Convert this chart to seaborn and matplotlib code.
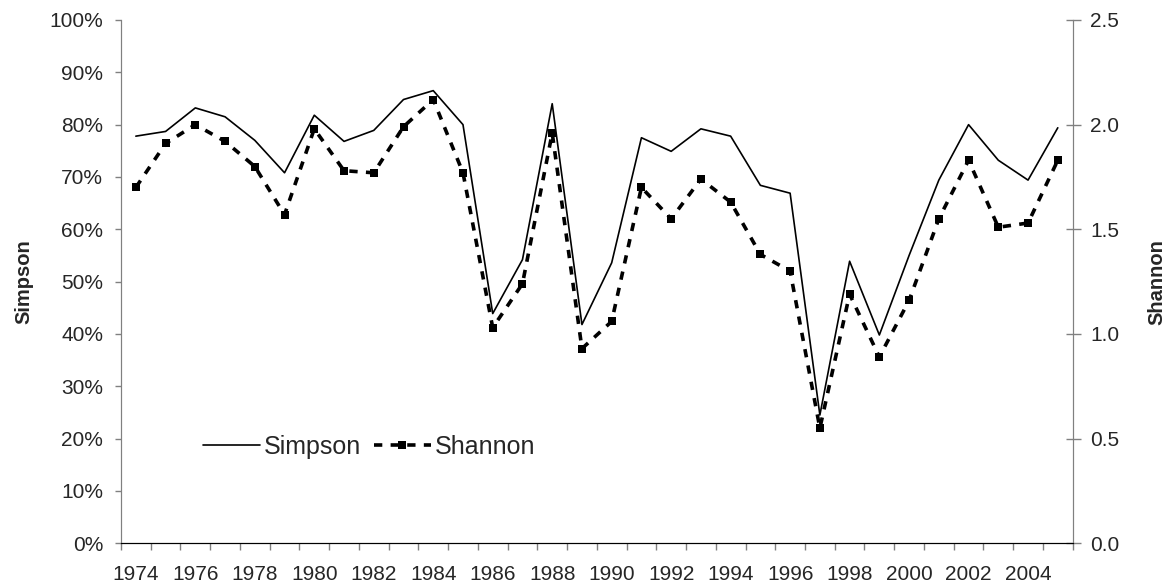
import numpy as np
import pandas as pd
import matplotlib
matplotlib.use("Agg")
import matplotlib.pyplot as plt
import seaborn as sns
from matplotlib.ticker import FuncFormatter, FixedLocator

sns.set_style("white")
plt.rcParams["font.family"] = ["Liberation Sans", "DejaVu Sans"]

years = list(range(1974, 2006))
simpson = [77.8, 78.7, 83.2, 81.5, 77.0, 70.8, 81.8, 76.8, 78.9, 84.8, 86.5, 80.0,
           43.9, 54.2, 84.0, 41.8, 53.6, 77.5, 74.9, 79.2, 77.8, 68.4, 66.9, 24.5, 53.9,
           39.8, 55.0, 69.4, 80.0, 73.2, 69.4, 79.4]
shannon = [1.70, 1.91, 2.00, 1.92, 1.80, 1.57, 1.98, 1.78, 1.77, 1.99, 2.12, 1.77,
           1.03, 1.24, 1.96, 0.93, 1.06, 1.70, 1.55, 1.74, 1.63, 1.38, 1.30, 0.55, 1.19,
           0.89, 1.16, 1.55, 1.83, 1.51, 1.53, 1.83]
year_labels = [str(y) for y in range(1974, 2005, 2)]

df = pd.DataFrame({"year": years, "Simpson": simpson, "Shannon": shannon})

fig = plt.figure(figsize=(11.7, 5.86), dpi=100)
ax = fig.add_axes([0.1034, 0.0729, 0.8134, 0.893])
ax2 = ax.twinx()

sns.lineplot(data=df, x="year", y="Simpson", ax=ax, color="black", linewidth=1.2,
             label="Simpson", legend=False)
sns.lineplot(data=df, x="year", y="Shannon", ax=ax2, color="black", linewidth=2.6,
             linestyle=(0, (2.3, 2.3)), marker="s", markersize=6, markeredgewidth=0,
             label="Shannon", legend=False)

ax.set_xlim(1973.5, 2005.5)
ax.set_ylim(0, 100)
ax2.set_ylim(0, 2.5)

# ticks sit between the years, labels every other year
ax.xaxis.set_major_locator(FixedLocator(np.arange(1973.5, 2006, 1)))
ax.xaxis.set_minor_locator(FixedLocator(range(1974, 2005, 2)))
ax.set_xticklabels([], minor=False)
ax.set_xticklabels(year_labels, minor=True)
ax.tick_params(axis="x", which="major", direction="out", length=4.8, width=1, color="#808080", bottom=True)
ax.tick_params(axis="x", which="minor", length=0, labelsize=15, pad=15.5)

ax.set_yticks(np.arange(0, 101, 10))
ax.yaxis.set_major_formatter(FuncFormatter(lambda v, p: f"{v:.0f}%"))
ax.tick_params(axis="y", direction="out", length=4.3, width=1, color="#808080",
               labelsize=15, pad=8.4, left=True)

ax2.set_yticks(np.arange(0, 2.51, 0.5))
ax2.yaxis.set_major_formatter(FuncFormatter(lambda v, p: f"{v:.1f}"))
ax2.tick_params(axis="y", direction="inout", length=10.8, width=1, color="#808080",
                labelsize=15, pad=7, right=True)

ax.set_xlabel("")
ax.set_ylabel("Simpson", fontsize=14.5, fontweight="bold", labelpad=12)
ax2.set_ylabel("Shannon", fontsize=14.5, fontweight="bold", labelpad=20)

for a in (ax, ax2):
    a.spines["top"].set_visible(False)
    a.spines["left"].set_color("#808080")
    a.spines["right"].set_color("#808080")
    a.spines["bottom"].set_color("black")
    a.grid(False)

h1, l1 = ax.get_legend_handles_labels()
h2, l2 = ax2.get_legend_handles_labels()
ax2.legend(h1 + h2, l1 + l2, loc="center", bbox_to_anchor=(0.2606, 0.184), ncol=2,
           frameon=False, fontsize=18, handlelength=2.3, columnspacing=0.5, handletextpad=0.15)

fig.savefig("out.png", dpi=100)
